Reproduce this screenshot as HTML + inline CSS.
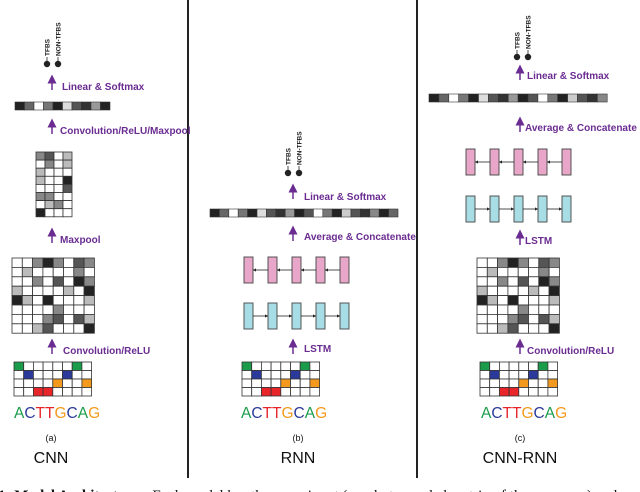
<!DOCTYPE html>
<html><head><meta charset="utf-8"><style>
html,body{margin:0;padding:0;background:#fff;width:640px;height:492px;overflow:hidden}
svg{display:block}
.p{fill:#6a2c91;font-family:"Liberation Sans",sans-serif;font-weight:bold;font-size:10px}
.s{font-family:"Liberation Sans",sans-serif;font-weight:bold;font-size:6.5px;fill:#222}
</style></head><body>
<svg id="g" width="640" height="492" viewBox="0 0 640 492" xmlns="http://www.w3.org/2000/svg">
<defs><marker id="ah" markerWidth="6" markerHeight="6" refX="3" refY="3" orient="auto"><path d="M0,0 L6,3 L0,6 z" fill="#6a2c91"/></marker></defs>
<line x1="188" y1="0" x2="188" y2="478" stroke="#222" stroke-width="2"/>
<line x1="417" y1="0" x2="417" y2="478" stroke="#222" stroke-width="2"/>

<!-- CNN -->
<g class="p">
<text x="62" y="90">Linear &amp; Softmax</text>
<text x="60" y="134">Convolution/ReLU/Maxpool</text>
<text x="60" y="243">Maxpool</text>
<text x="63" y="354">Convolution/ReLU</text>
<text x="304" y="200">Linear &amp; Softmax</text>
<text x="304" y="240">Average &amp; Concatenate</text>
<text x="304" y="352">LSTM</text>
<text x="527" y="79">Linear &amp; Softmax</text>
<text x="525" y="131">Average &amp; Concatenate</text>
<text x="525" y="244">LSTM</text>
<text x="527" y="354">Convolution/ReLU</text>
</g>
<g id="arrows" stroke="#6a2c91" stroke-width="1.5" fill="none"></g>
<g id="cells"></g>

<g font-family="Liberation Sans,sans-serif" text-anchor="middle" fill="#111">
<text x="51" y="441" font-size="9">(a)</text>
<text x="51" y="463" font-size="16">CNN</text>
<text x="298" y="441" font-size="9">(b)</text>
<text x="298" y="463" font-size="16">RNN</text>
<text x="520" y="441" font-size="9">(c)</text>
<text x="520" y="463" font-size="16">CNN-RNN</text>
</g>
<text x="-2" y="500" font-family="Liberation Serif,serif" font-size="15" fill="#111"><tspan font-weight="bold">1: Model Architectures.</tspan> Each model has the same input (one-hot encoded matrix of the sequence) and</text>
</svg>
<script>
var NS="http://www.w3.org/2000/svg",C=document.getElementById("cells"),A=document.getElementById("arrows");
function el(t,a,p){var e=document.createElementNS(NS,t);for(var k in a)e.setAttribute(k,a[k]);(p||C).appendChild(e);return e;}
var grays=["#222","#555","#888","#bbb","#fff","#fff","#fff","#fff","#fff"];
var seed=7;function rnd(){seed=(seed*9301+49297)%233280;return seed/233280;}
function grid(x,y,cols,rows,w,h,colorFn){for(var r=0;r<rows;r++)for(var c=0;c<cols;c++){el("rect",{x:x+c*w,y:y+r*h,width:w,height:h,fill:colorFn(r,c),stroke:"#333","stroke-width":0.8});}}
function gray(){return grays[Math.floor(rnd()*grays.length)];}
var barc=["#222","#666","#fff","#777","#222","#ddd","#555","#333","#999","#222","#555","#fff","#777","#222","#ccc","#555","#333","#888","#222","#666"];
function bar(x,y,n,w){for(var i=0;i<n;i++)el("rect",{x:x+i*w,y:y,width:w,height:8,fill:barc[i%barc.length],stroke:"#333","stroke-width":0.6});}
var oh={"0,0":"#1a9c4a","1,1":"#2b3a9a","3,2":"#e8262a","3,3":"#e8262a","2,4":"#f39a1e","1,5":"#2b3a9a","0,6":"#1a9c4a","2,7":"#f39a1e"};
function onehot(x,y){grid(x,y,8,4,9.7,8.5,function(r,c){return oh[r+","+c]||"#fff";});}
var lc=["#1a9c4a","#2b3a9a","#e8262a","#e8262a","#f39a1e","#2b3a9a","#1a9c4a","#f39a1e"],L="ACTTGCAG";
function seq(x,y){var t=el("text",{x:x,y:y,"font-family":"Liberation Sans,sans-serif","font-size":"15.5"});for(var i=0;i<8;i++){var s=el("tspan",{fill:lc[i]},t);s.textContent=L[i];}}
function arrow(x,y){el("line",{x1:x,y1:y+13,x2:x,y2:y+2,"marker-end":"url(#ah)"},A);}
function lstm(x,y,fill,left){for(var i=0;i<5;i++){el("rect",{x:x+i*24,y:y,width:9,height:26,fill:fill,stroke:"#444","stroke-width":0.9});}
 for(var i=0;i<4;i++){var a=x+i*24+9,b=x+(i+1)*24;el("line",{x1:a,y1:y+13,x2:b,y2:y+13,stroke:"#222","stroke-width":0.8});
 var tip=left?a:b;el("path",{d:left?("M"+tip+","+(y+13)+" l3,-1.6 v3.2z"):("M"+tip+","+(y+13)+" l-3,-1.6 v3.2z"),fill:"#222"});}}
function outs(x,y){[0,11].forEach(function(d,i){el("circle",{cx:x+d,cy:y,r:3.2,fill:"#222"});el("line",{x1:x+d,y1:y,x2:x+d,y2:y-7,stroke:"#222","stroke-width":0.8});
 var t=el("text",{class:"s",transform:"translate("+(x+d+2.3)+","+(y-8)+") rotate(-90)"});t.textContent=i?"NON-TFBS":"TFBS";});}
// CNN
outs(47,64);arrow(52,77);bar(15,102,10,9.5);arrow(52,121);
seed=3;grid(36,152,4,8,9,8.1,gray);arrow(52,230);
seed=11;var big=[];grid(12,258,8,8,10.3,9.4,gray);arrow(52,341);onehot(14,362);seq(14,418);
// RNN
outs(288,173);arrow(293,186);bar(210,209,20,9.4);arrow(293,228);
lstm(244,257,"#e8a6c9",true);lstm(244,303,"#a8dde6",false);arrow(293,341);onehot(242,362);seq(241,418);
// CNN-RNN
outs(517,57);arrow(520,67);bar(429,94,18,9.9);arrow(520,119);
lstm(466,149,"#e8a6c9",true);lstm(466,196,"#a8dde6",false);arrow(520,232);
seed=11;grid(477,258,8,8,10.3,9.4,gray);arrow(520,341);onehot(480,362);seq(481,418);
</script>
</body></html>
